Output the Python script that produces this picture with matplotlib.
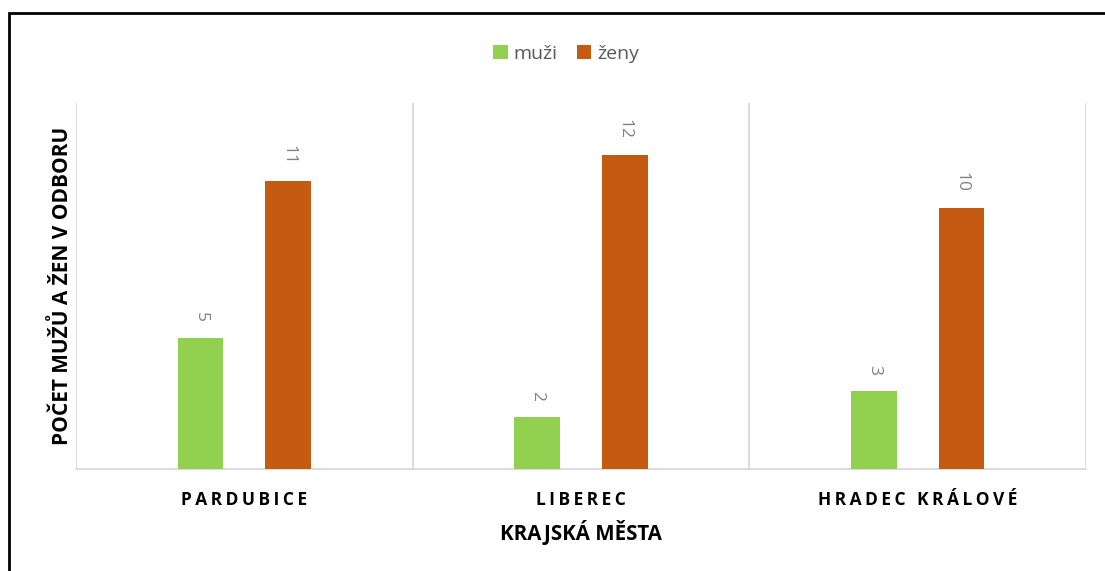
import matplotlib
matplotlib.use("Agg")
import matplotlib.pyplot as plt
import numpy as np
import os
from matplotlib.patches import Rectangle
from matplotlib import font_manager as fm

categories = ["PARDUBICE", "LIBEREC", "HRADEC KRÁLOVÉ"]
muzi = [5, 2, 3]
zeny = [11, 12, 10]
series_names = ["muži", "ženy"]
colors = ["#92D050", "#C55A11"]

plt.rcParams['font.family'] = ['Open Sans', 'DejaVu Sans']

files = fm.findSystemFonts()

def find_bold():
    prefs = ["OpenSans-Bold.ttf", "NotoSans-Bold.ttf", "Lato-Bold.ttf", "LiberationSans-Bold.ttf"]
    for p in prefs:
        for f in files:
            if os.path.basename(f) == p:
                return f
    return None

bold_file = find_bold()
def bold_fp(size):
    if bold_file:
        return fm.FontProperties(fname=bold_file, size=size)
    return fm.FontProperties(family="DejaVu Sans", weight="bold", size=size)

fig = plt.figure(figsize=(11.05, 5.71), dpi=100)
W, H = 1105, 571
ax = fig.add_axes([76 / W, 1 - 469 / H, (1086 - 76) / W, (469 - 103) / H])

x = np.arange(len(categories))
bw = 0.136
off = 0.13
b1 = ax.bar(x - off, muzi, bw, color=colors[0], label=series_names[0], zorder=3)
b2 = ax.bar(x + off, zeny, bw, color=colors[1], label=series_names[1], zorder=3)

for bars, vals in ((b1, muzi), (b2, zeny)):
    for rect, v in zip(bars, vals):
        ax.annotate(str(v), (rect.get_x() + rect.get_width() / 2, rect.get_height()),
                    xytext=(0, 11.5), textcoords="offset points", rotation=270,
                    ha="center", va="bottom", color="#808080", fontsize=12.5)

def spaced(s):
    return "\u2009".join(s)

ax.set_xlim(-0.5, len(categories) - 0.5)
ax.set_ylim(0, 14)
ax.set_yticks([])
ax.set_xticks(x)
ax.set_xticklabels([spaced(c) for c in categories], fontproperties=bold_fp(12.5),
                   color="#000000")
ax.tick_params(axis="x", length=0, pad=16)
for b in np.arange(-0.5, len(categories), 1.0):
    ax.axvline(b, color="#D9D9D9", lw=1.3, zorder=1)
for s in ["top", "right", "left"]:
    ax.spines[s].set_visible(False)
ax.spines["bottom"].set_color("#D9D9D9")
ax.spines["bottom"].set_linewidth(1.3)

ax.set_xlabel("KRAJSKÁ MĚSTA", fontproperties=bold_fp(14.8), labelpad=7.5)
ax.set_ylabel("POČET MUŽŮ A ŽEN V ODBORU", fontproperties=bold_fp(15), labelpad=2.5)

fig.legend(handles=[b1, b2], labels=series_names, loc="center", bbox_to_anchor=(566 / W, 1 - 54 / H),
           ncol=2, frameon=False, fontsize=14, handlelength=0.75, handleheight=0.75,
           handletextpad=0.3, columnspacing=1.0, labelcolor="#595959")

fig.patches.append(Rectangle((9 / W, -0.1), 1.2, 1 - 13 / H + 0.1, transform=fig.transFigure,
                             fill=False, edgecolor="black", lw=2, zorder=10))

fig.savefig("out.png", dpi=100)
